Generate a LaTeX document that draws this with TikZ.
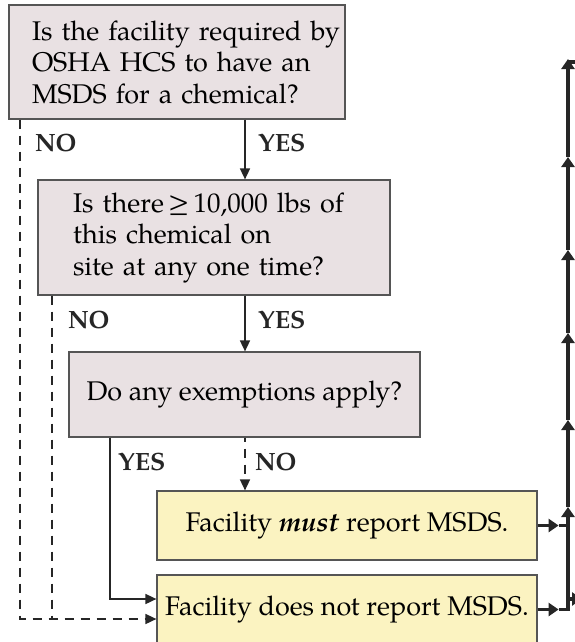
\documentclass[tikz,border=0pt]{standalone}
\usepackage{fontspec}
\setmainfont{TeX Gyre Pagella}
\usetikzlibrary{arrows.meta}
\definecolor{qfill}{RGB}{233,225,227}
\definecolor{afill}{RGB}{251,243,193}
\definecolor{bord}{RGB}{85,85,85}
\definecolor{ink}{RGB}{38,38,38}
\begin{document}
\begin{tikzpicture}[x=1pt,y=-1pt,
  box/.style={draw=bord, line width=1.2pt, inner ysep=0pt, text=black,
    font=\fontsize{27}{31.5}\selectfont},
  qbox/.style={box, fill=qfill},
  abox/.style={box, fill=afill},
  lbl/.style={font=\fontsize{25}{28}\selectfont\bfseries, anchor=west, inner sep=0pt, text=ink},
  conn/.style={draw=ink, line width=1.6pt},
  dsh/.style={dash pattern=on 9pt off 7pt},
  tip/.style={-{Triangle[length=11pt,width=10pt]}},
  thkl/.style={draw=ink, line width=3.6pt},
  thk/.style={thkl, -{Triangle[length=10pt,width=13pt]}}
]
\useasboundingbox (0,0) rectangle (575,642);

% boxes
\node[qbox, minimum width=336pt, minimum height=114pt, text width=290pt, inner xsep=23pt, align=left]
  (q1) at (177,62) {\mbox{Is the facility required by}\\OSHA HCS to have an\\MSDS for a chemical?};
\node[qbox, minimum width=352pt, minimum height=115pt, text width=282pt, inner xsep=35pt, align=left]
  (q2) at (214,237.5) {Is there\,≥\,10,000 lbs of\\this chemical on\\site at any one time?};
\node[qbox, minimum width=351pt, minimum height=85pt, inner xsep=0pt]
  (q3) at (244.5,394.5) {Do any exemptions apply?};
\node[abox, minimum width=380pt, minimum height=69pt, inner xsep=0pt]
  (a1) at (347,525.5) {Facility \textbf{\textit{must}} report MSDS.};
\node[abox, minimum width=380pt, minimum height=69pt, inner xsep=0pt]
  (a2) at (347,609.5) {Facility does not report MSDS.};

% labels
\node[lbl] (l1) at (35,143) {NO};
\node[lbl] (l2) at (258,143) {YES};
\node[lbl] (l3) at (68,320) {NO};
\node[lbl] (l4) at (258,320) {YES};
\node[lbl] (l5) at (118,462) {YES};
\node[lbl] (l6) at (255,462) {NO};

% helper coordinates
\coordinate (xa) at (245,0);
\coordinate (xn1) at (20,0);
\coordinate (xn2) at (52,0);
\coordinate (xy3) at (110,0);
\coordinate (xr) at (568,0);
\coordinate (ydash) at (0,619);
\coordinate (yyes) at (0,599);

% thin connectors
\draw[conn,tip] (q1.south -| xa) -- (q2.north -| xa);
\draw[conn,tip] (q2.south -| xa) -- (q3.north -| xa);
\draw[conn,dsh,tip] (q1.south -| xn1) -- (xn1 |- ydash) -- (a2.west |- ydash);
\draw[conn,dsh] (q2.south -| xn2) -- (xn2 |- ydash);
\draw[conn,tip] (q3.south -| xy3) -- (xy3 |- yyes) -- (a2.west |- yyes);
\draw[conn,dash pattern=on 9pt off 7pt,dash phase=5pt,tip] (q3.south -| xa) -- (a1.north -| xa);

% thick connectors
\coordinate (j1) at (a1.east -| xr);
\coordinate (j2) at (a2.east -| xr);
\coordinate (h1) at ([xshift=21pt]a1.east);
\coordinate (h2) at ([xshift=21pt]a2.east);
\draw[thk] (a1.east) -- (h1);
\draw[thkl] (h1) -- (j1);
\draw[thk] (a2.east) -- (h2);
\draw[thkl] (h2) -- (j2) -- ([yshift=-1.8pt]j2 -| xr);
\coordinate (v1) at (568,507);
\coordinate (v2) at (568,420);
\coordinate (v3) at (568,333);
\coordinate (v4) at (568,250);
\coordinate (v5) at (568,157);
\coordinate (v6) at (568,59);
\draw[thk] (j2) -- (v1);
\draw[thk] (v1) -- (v2);
\draw[thk] (v2) -- (v3);
\draw[thk] (v3) -- (v4);
\draw[thk] (v4) -- (v5);
\draw[thk] (v5) -- (v6);
\coordinate (s1) at (568,62);
\draw[thkl] (s1) -- ++(14,0);
\coordinate (s2) at (568,599);
\draw[thk] (s2) -- ++(14,0);
\end{tikzpicture}
\end{document}
